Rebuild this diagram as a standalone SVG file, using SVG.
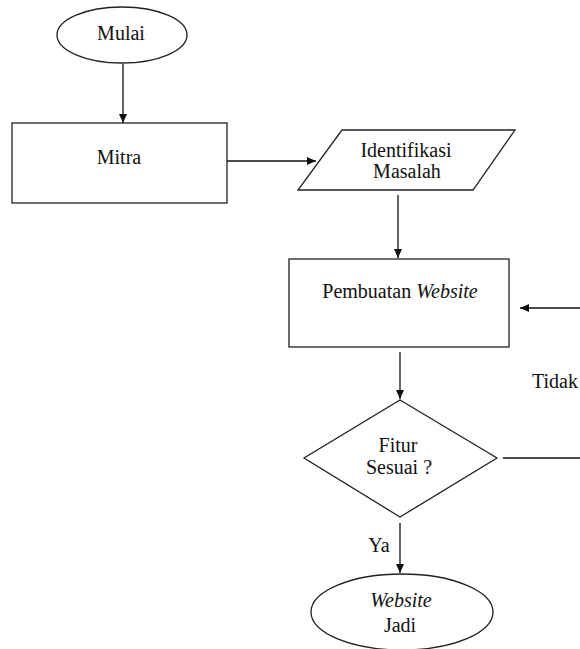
<svg xmlns="http://www.w3.org/2000/svg" width="580" height="649" viewBox="0 0 580 649">
<defs>
<marker id="ah" markerWidth="10" markerHeight="8" refX="9" refY="4" orient="auto" markerUnits="userSpaceOnUse">
<path d="M0,0 L9,4 L0,8 Z" fill="#111"/>
</marker>
<style>
.s{fill:#fff;stroke:#222;stroke-width:1.3}
.c{fill:none;stroke:#111;stroke-width:1.3}
.t{font-family:"Liberation Serif","Times New Roman",serif;font-size:20px;fill:#111;text-anchor:middle}
.tl{font-family:"Liberation Serif","Times New Roman",serif;font-size:20px;fill:#111;text-anchor:end}
.i{font-style:italic}
</style>
</defs>
<rect width="580" height="649" fill="#fff"/>
<g id="connectors">
<line class="c" x1="123" y1="64" x2="123" y2="123" marker-end="url(#ah)"/>
<line class="c" x1="227" y1="161" x2="316" y2="161" marker-end="url(#ah)"/>
<line class="c" x1="398" y1="195" x2="398" y2="258" marker-end="url(#ah)"/>
<line class="c" x1="580" y1="308" x2="520" y2="308" marker-end="url(#ah)"/>
<line class="c" x1="400" y1="352" x2="400" y2="399" marker-end="url(#ah)"/>
<line class="c" x1="503" y1="458" x2="580" y2="458"/>
<line class="c" x1="400" y1="523" x2="400" y2="573" marker-end="url(#ah)"/>
<text class="tl" x="578" y="388">Tidak</text>
<text class="t" x="379" y="552">Ya</text>
</g>
<g id="mulai">
<ellipse class="s" cx="122" cy="35" rx="65" ry="28"/>
<text class="t" x="121" y="40">Mulai</text>
</g>
<g id="mitra">
<rect class="s" x="12" y="123" width="215" height="80"/>
<text class="t" x="119" y="164">Mitra</text>
</g>
<g id="identifikasi">
<polygon class="s" points="342,130 515,130 473,190 298,190"/>
<text class="t" x="406" y="157">Identifikasi</text>
<text class="t" x="407" y="178">Masalah</text>
</g>
<g id="pembuatan">
<rect class="s" x="289" y="259" width="220" height="88"/>
<text class="t" x="400" y="298">Pembuatan <tspan class="i">Website</tspan></text>
</g>
<g id="fitur">
<polygon class="s" points="400,400 497,458 400,517 304,458"/>
<text class="t" x="398" y="452">Fitur</text>
<text class="t" x="399" y="474">Sesuai ?</text>
</g>
<g id="jadi">
<ellipse class="s" cx="402" cy="612" rx="91" ry="38"/>
<text class="t i" x="401" y="607">Website</text>
<text class="t" x="400" y="632">Jadi</text>
</g>
</svg>
